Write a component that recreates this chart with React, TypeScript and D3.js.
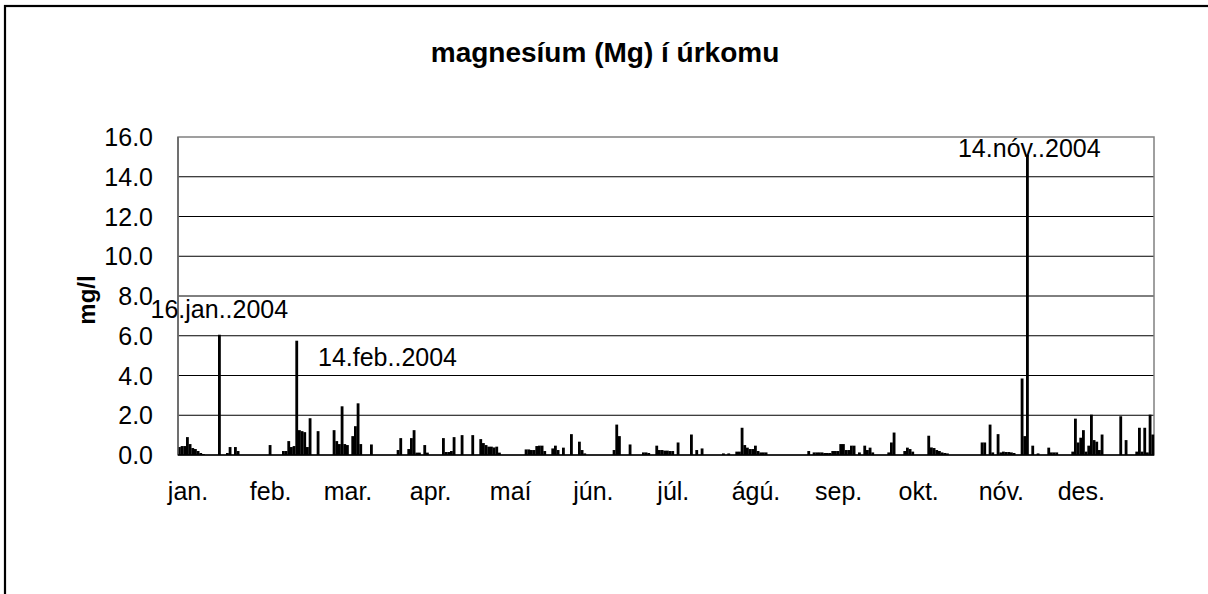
import React from "react";
import * as d3 from "d3";

// Day-of-year index (2004, 0 = 1 Jan) of each sample with a value, and its value in mg/l
const sampleDays = [
  0, 1, 2, 3, 4, 5, 6, 7, 8, 9, 15, 18, 19, 21, 22,
  34, 39, 40, 41, 42, 43, 44, 45, 46, 47, 48, 49, 52, 58, 59,
  60, 61, 62, 63, 65, 66, 67, 68, 72, 82, 83, 86, 87, 88, 89, 90,
  92, 93, 99, 100, 101, 102, 103, 106, 110, 113, 114, 115, 116, 117, 118, 119, 120,
  130, 131, 132, 133, 134, 135, 136, 137, 140, 141, 142, 144, 147, 150, 151, 152,
  163, 164, 165, 169, 174, 175, 176, 179, 180, 181, 182, 183, 184, 185, 187,
  192, 194, 196, 204, 206, 209, 210, 211, 212, 213, 214, 215, 216, 217, 218, 219, 220,
  236, 238, 239, 240, 241, 242, 243, 244, 245, 246, 247, 248, 249, 250, 251, 252, 253, 255, 257, 258, 259, 260,
  266, 267, 268, 272, 273, 274, 275, 281, 282, 283, 284, 285, 286, 287, 288,
  301, 302, 304, 305, 307, 308, 309, 310, 311, 312, 313,
  316, 317, 318, 320, 322, 326, 327, 328, 329,
  335, 336, 337, 338, 339, 340, 341, 342, 343, 344, 345, 346, 353, 355, 359, 360, 361, 362, 363, 364, 365,
];
const sampleValues = [
  0.4, 0.45, 0.45, 0.9, 0.55, 0.35, 0.3, 0.2, 0.1, 0.05, 6.05, 0.1, 0.4, 0.4, 0.2,
  0.5, 0.2, 0.2, 0.7, 0.4, 0.45, 5.75, 1.25, 1.2, 1.15, 0.4, 1.85, 1.2, 1.25, 0.7,
  0.55, 2.45, 0.55, 0.5, 0.95, 1.45, 2.6, 0.55, 0.53, 0.25, 0.85, 0.3, 0.85, 1.25, 0.12, 0.12,
  0.5, 0.12, 0.85, 0.15, 0.15, 0.2, 0.9, 1.0, 1.0, 0.8, 0.6, 0.5, 0.42, 0.42, 0.38, 0.42, 0.12,
  0.28, 0.28, 0.25, 0.25, 0.45, 0.47, 0.47, 0.2, 0.33, 0.47, 0.25, 0.37, 1.05, 0.67, 0.25, 0.08,
  0.25, 1.53, 0.95, 0.53, 0.13, 0.13, 0.1, 0.47, 0.25, 0.25, 0.22, 0.22, 0.2, 0.2, 0.63,
  1.03, 0.25, 0.33, 0.08, 0.08, 0.17, 0.17, 1.37, 0.5, 0.37, 0.3, 0.3, 0.47, 0.2, 0.13, 0.13, 0.13,
  0.2, 0.13, 0.13, 0.13, 0.13, 0.1, 0.1, 0.1, 0.2, 0.2, 0.2, 0.55, 0.55, 0.25, 0.25, 0.47, 0.47, 0.13, 0.47, 0.25, 0.37, 0.13,
  0.13, 0.63, 1.13, 0.2, 0.37, 0.3, 0.17, 0.97, 0.38, 0.35, 0.25, 0.2, 0.13, 0.1, 0.08,
  0.63, 0.63, 1.53, 0.13, 1.05, 0.13, 0.17, 0.15, 0.15, 0.13, 0.1,
  3.85, 0.95, 15.1, 0.47, 0.08, 0.37, 0.13, 0.13, 0.13,
  0.17, 1.83, 0.63, 0.87, 1.25, 0.17, 0.47, 2.03, 0.75, 0.67, 0.25, 1.03, 1.95, 0.75, 0.17, 1.37, 0.17, 1.37, 0.13, 2.03, 1.03,
];

const DAYS_IN_YEAR = 366;
const monthLabels = ["jan.", "feb.", "mar.", "apr.", "maí", "jún.", "júl.", "ágú.", "sep.", "okt.", "nóv.", "des."];
const monthStartDays = [0, 31, 60, 91, 121, 152, 182, 213, 244, 274, 305, 335];
const yTicks = [0, 2, 4, 6, 8, 10, 12, 14, 16];

const annotationDays = [15, 44, 318];
const annotationTexts = ["16.jan..2004", "14.feb..2004", "14.nóv..2004"];

const TITLE = "magnesíum (Mg) í úrkomu";
const Y_TITLE = "mg/l";

export default function App() {
  const W = 1208, H = 594;
  const left = 178, right = 1154, top = 137, bottom = 455;
  const font = "'Liberation Sans', Arial, sans-serif";

  const days = d3.range(DAYS_IN_YEAR);
  const x = d3.scaleBand<number>().domain(days).range([left, right]).paddingInner(0).paddingOuter(0);
  const y = d3.scaleLinear().domain([0, 16]).range([bottom, top]);
  const bw = x.bandwidth();

  const annPos = [
    { dx: 0, anchor: "middle", baseline: 318 },
    { dx: 0, anchor: "start", baseline: 366 },
    { dx: 2, anchor: "middle", baseline: 157 },
  ];

  return (
    <svg width={W} height={H} style={{ position: "absolute", left: 0, top: 0, background: "#fff" }} fontFamily={font}>
      <rect x={0} y={0} width={W} height={H} fill="#fff" />
      {/* outer chart border */}
      <rect x={5} y={6} width={W + 20} height={H + 20} fill="none" stroke="#000" strokeWidth={2.2} />

      {/* title */}
      <text x={605} y={62} textAnchor="middle" fontSize={28} fontWeight="bold" fill="#000">{TITLE}</text>

      {/* gridlines */}
      {yTicks.filter((t) => t > 0 && t < 16).map((t) => (
        <line key={t} x1={left} x2={right} y1={y(t)} y2={y(t)} stroke="#000" strokeWidth={1} />
      ))}
      {/* plot border */}
      <rect x={left} y={top} width={right - left} height={bottom - top} fill="none" stroke="#808080" strokeWidth={1.5} />

      {/* bars */}
      {sampleDays.map((d, i) => (
        <rect key={d} x={(x(d) as number)} y={y(sampleValues[i])} width={bw + 0.15} height={bottom - y(sampleValues[i])} fill="#000" />
      ))}

      {/* axes lines */}
      <line x1={left} x2={left} y1={top} y2={bottom} stroke="#606060" strokeWidth={1.5} />
      <line x1={left} x2={right} y1={bottom} y2={bottom} stroke="#000" strokeWidth={1.5} />

      {/* y tick labels */}
      {yTicks.map((t) => (
        <text key={t} x={153} y={y(t)} dy="0.36em" textAnchor="end" fontSize={25} fill="#000">{d3.format(".1f")(t)}</text>
      ))}

      {/* y axis title */}
      <text transform={`translate(95, ${(top + bottom) / 2 + 4}) rotate(-90)`} textAnchor="middle" fontSize={24} fontWeight="bold" fill="#000">{Y_TITLE}</text>

      {/* month labels */}
      {monthLabels.map((m, i) => (
        <text key={m} x={(x(monthStartDays[i]) as number) + 10} y={500} textAnchor="middle" fontSize={25} fill="#000">{m}</text>
      ))}

      {/* data labels */}
      {annotationDays.map((d, i) => {
        const p = annPos[i];
        const cx = (x(d) as number) + bw / 2 + p.dx;
        const xx = p.anchor === "start" ? 318 : cx;
        return (
          <text key={d} x={xx} y={p.baseline} textAnchor={p.anchor as any} fontSize={25} fill="#000">{annotationTexts[i]}</text>
        );
      })}
    </svg>
  );
}
